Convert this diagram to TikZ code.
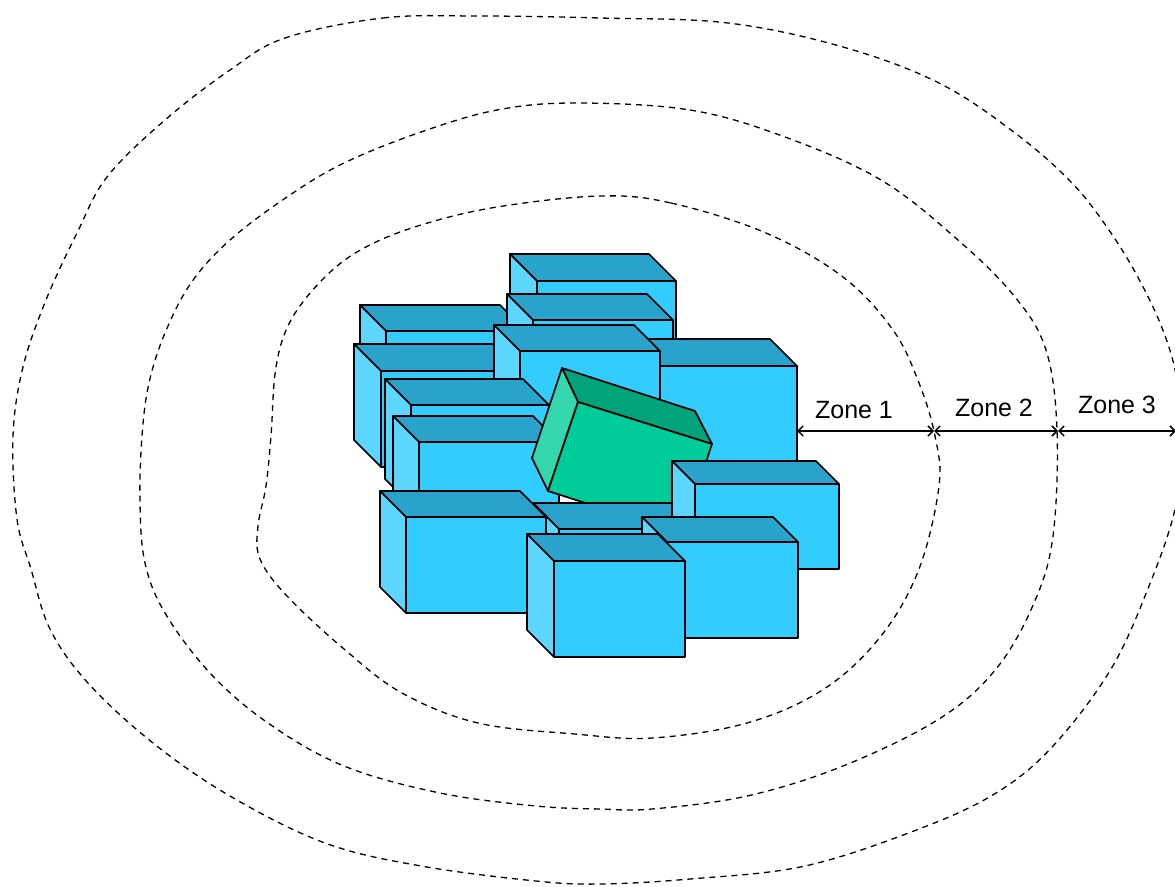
\documentclass[tikz,border=0pt]{standalone}
\usepackage{fontspec}
\setmainfont{Liberation Sans}
\usetikzlibrary{arrows.meta}

\definecolor{bfront}{HTML}{33CCFF}
\definecolor{btop}{HTML}{29A3CC}
\definecolor{bside}{HTML}{5CD6FF}
\definecolor{gfront}{HTML}{00CC99}
\definecolor{gtop}{HTML}{00A37A}
\definecolor{gside}{HTML}{33D6AD}

\tikzset{
  face/.style={draw=black, line width=1.7pt, line join=round},
  bluefront/.style={face, fill=bfront},
  bluetop/.style={face, fill=btop},
  blueside/.style={face, fill=bside},
  greenfront/.style={face, fill=gfront},
  greentop/.style={face, fill=gtop},
  greenside/.style={face, fill=gside},
  zoneline/.style={draw=black, line width=1.3pt, dash pattern=on 6pt off 5pt},
  zonearrow/.style={draw=black, line width=1.5pt,
    {Straight Barb[length=5pt,width=10pt]}-{Straight Barb[length=5pt,width=10pt]}},
  zonelabel/.style={font=\fontsize{25}{30}\selectfont, inner sep=0pt}
}

% block: #1,#2 = back top-left corner, #3 = width, #4 = height, #5 = depth
\newcommand\blockcube[5]{%
  \filldraw[bluetop] (#1,#2) -- ++(#3,0) -- ++(#5,#5) -- ++(-#3,0) -- cycle;
  \filldraw[blueside] (#1,#2) -- ++(#5,#5) -- ++(0,#4) -- ++(-#5,-#5) -- cycle;
  \filldraw[bluefront] ({#1+#5},{#2+#5}) rectangle ++(#3,#4);
}

\begin{document}
\begin{tikzpicture}[x=1pt,y=-1pt]
\useasboundingbox (0,0) rectangle (1175,886);

% zone boundaries
\draw[zoneline] plot[smooth cycle, tension=0.6] coordinates {
  (600,196) (671,203) (766,233) (843,277) (893,330) (919,383) (935,436)
  (939,486) (919,569) (881,636) (824,689) (747,723) (652,738) (575,734)
  (478,723) (402,693) (344,649) (287,596) (260,559) (258,526) (266,486)
  (271,436) (276,367) (291,320) (325,277) (364,248) (421,225) (497,207)};
\draw[zoneline] plot[smooth cycle, tension=0.6] coordinates {
  (575,103) (690,110) (785,137) (881,180) (958,240) (1015,297) (1046,350)
  (1057,430) (1053,536) (1034,603) (996,669) (939,719) (843,766) (747,796)
  (652,809) (600,809) (536,806) (440,793) (344,766) (268,723) (210,673)
  (165,613) (145,563) (140,503) (142,436) (149,383) (165,333) (191,283)
  (230,240) (287,197) (344,163) (421,132) (497,110)};
\draw[zoneline] plot[smooth cycle, tension=0.6] coordinates {
  (285,38) (383,18) (478,16) (600,18) (728,23) (843,47) (939,83)
  (1015,133) (1072,183) (1111,233) (1141,283) (1164,333) (1177,380)
  (1182,440) (1175,509) (1149,586) (1111,669) (1053,746) (996,793)
  (919,829) (805,866) (690,879) (600,884) (536,881) (421,866) (325,843)
  (230,796) (153,743) (88,683) (50,629) (31,569) (17,519) (13,436)
  (23,367) (46,300) (77,233) (107,177) (165,120) (230,70)};

% block cluster, back to front
\blockcube{510}{254}{139}{110}{27}
\blockcube{360}{305}{140}{100}{26}
\blockcube{507}{294}{140}{100}{26}
\blockcube{354}{344}{140}{96}{27}
\blockcube{633}{339}{137}{130}{27}
\blockcube{494}{325}{140}{110}{26}
\blockcube{385}{379}{138}{100}{26}
\blockcube{393}{416}{140}{100}{26}

% tilted green block
\coordinate (gA) at (562,368);
\coordinate (gB) at (695,411);
\coordinate (gC) at (712,444);
\coordinate (gD) at (578,402);
\coordinate (gE) at (532,458);
\coordinate (gF) at (548,491);
\coordinate (gG) at (682,534);
\filldraw[greentop] (gA) -- (gB) -- (gC) -- (gD) -- cycle;
\filldraw[greenside] (gA) -- (gD) -- (gF) -- (gE) -- cycle;
\filldraw[greenfront] (gD) -- (gC) -- (gG) -- (gF) -- cycle;

\blockcube{533}{503}{140}{96}{26}
\blockcube{380}{491}{140}{96}{26}
\blockcube{672}{461}{144}{85}{23}
\blockcube{642}{517}{131}{96}{25}
\blockcube{527}{534}{131}{96}{27}

% zone widths
\coordinate (z0) at (797,431);
\coordinate (z1) at (934,431);
\coordinate (z2) at (1058,431);
\coordinate (z3) at (1176,431);
\draw[zonearrow] (z0) -- (z1);
\draw[zonearrow] (z1) -- (z2);
\draw[zonearrow] (z2) -- (z3);
\node[zonelabel] (zone1) at (854,410) {Zone 1};
\node[zonelabel] (zone2) at (994,408) {Zone 2};
\node[zonelabel] (zone3) at (1117,405) {Zone 3};
\end{tikzpicture}
\end{document}
